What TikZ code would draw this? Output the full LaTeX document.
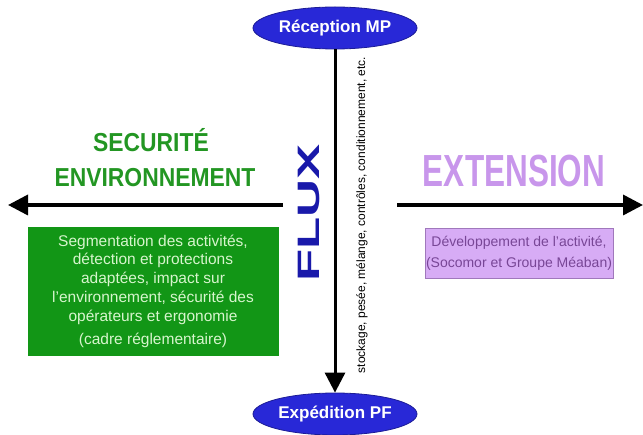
\documentclass[tikz,border=0pt]{standalone}
\usepackage{fontspec}
\setmainfont{Liberation Sans}
\usepackage{graphicx}
\usetikzlibrary{calc,
arrows.meta,
shapes.geometric,
positioning}

\definecolor{fluxblue}{RGB}{40,40,215}
\definecolor{fluxdark}{RGB}{25,25,170}
\definecolor{secugreen}{RGB}{35,150,35}
\definecolor{boxgreen}{RGB}{18,150,22}
\definecolor{palegreen}{RGB}{215,245,205}
\definecolor{lilac}{RGB}{200,150,235}
\definecolor{boxlilac}{RGB}{215,172,245}
\definecolor{plum}{RGB}{120,70,150}

\newcommand*{\fsz}[2]{\fontsize{#1}{#2}\selectfont}

\begin{document}
\begin{tikzpicture} [x = 1pt, y = -1pt,
  >={Triangle[width = 20pt, length = 20pt]},
  thick,
  stage node/.style={ellipse, fill = fluxblue, draw = fluxblue!70!black,
      minimum width = 164pt, minimum height = 42pt, inner sep = 0pt,
      text = white, font = \fsz{17}{20}\bfseries},
  axis arrow/.style={->, line width = 3.5pt},
  main node/.style={rectangle, draw, align = center, inner sep = 0pt}]

  \useasboundingbox (0,0) rectangle (643,435);

  \node [stage node] (recep) at (335, 28) {Réception MP};
  \node [stage node] (exped) at (335, 414) {Expédition PF};

  \draw [->, line width = 3pt] (recep.south) -- (exped.north);

  \node [rotate = 90, text = fluxdark,
    font = \fsz{31}{31}\bfseries
  ] (flux) at (309, 213) {\scalebox{1.7}[1]{FLUX}};

  \node [rotate = 90,
    font = \fsz{12}{12}
  ] (tasks) at (362, 215) {stockage, pesée, mélange, contrôles, conditionnement, etc.};

  % horizontal axis
  \coordinate (west tip) at (8, 205);
  \coordinate (west tail) at (283, 205);
  \coordinate (east tail) at (397, 205);
  \coordinate (east tip) at (643, 205);
  \draw [axis arrow] (west tail) -- (west tip);
  \draw [axis arrow] (east tail) -- (east tip);

  \node [text = secugreen, anchor = base,
    font = \fsz{26}{26}\bfseries
  ] (secu) at (151, 152) {\scalebox{.88}[1]{SECURITÉ}};
  \node [text = secugreen, anchor = base,
    font = \fsz{26}{26}\bfseries
  ] (envir) at (155, 187) {\scalebox{.88}[1]{ENVIRONNEMENT}};

  \node [main node,
    fill = boxgreen, draw = boxgreen, text = palegreen,
    minimum width = 250pt, minimum height = 128pt,
    font = \fsz{15.5}{18.8}
  ] (segm) at (153, 291) {Segmentation des activités,\\détection et protections\\adaptées, impact sur\\l'environnement, sécurité des\\opérateurs et ergonomie\\[4pt](cadre réglementaire)};

  \node [text = lilac,
    font = \fsz{45}{45}\bfseries
  ] (ext) at (514, 171) {\scalebox{.7}[1]{EXTENSION}};

  \node [main node,
    fill = boxlilac, draw = lilac!80!black, text = plum,
    minimum width = 188pt, minimum height = 50pt,
    font = \fsz{14}{21}
  ] (devel) at (519, 253) {Développement de l'activité,\\(Socomor et Groupe Méaban)};

\end{tikzpicture}
\end{document}
